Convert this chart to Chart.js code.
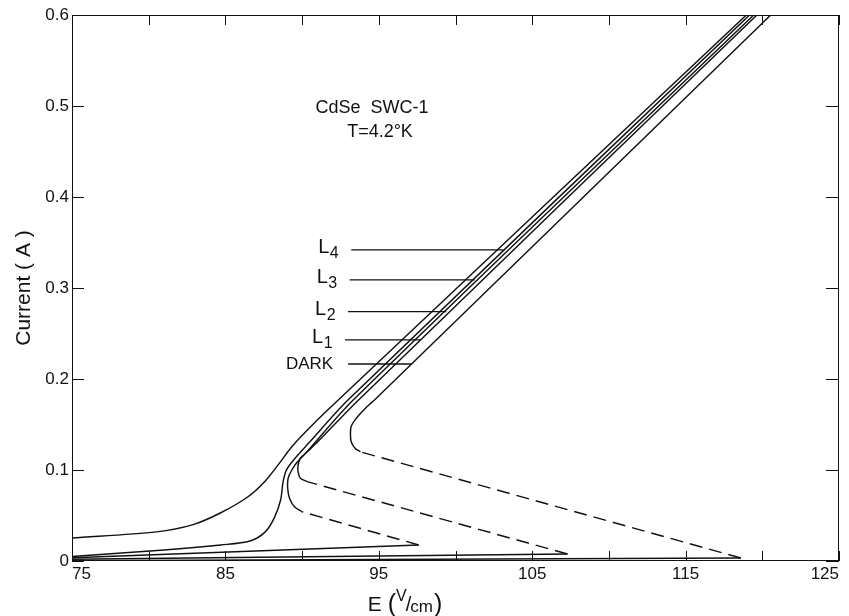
<!DOCTYPE html>
<html>
<head>
<meta charset="utf-8">
<script src="https://cdn.jsdelivr.net/npm/chart.js@4.4.1/dist/chart.umd.min.js"></script>
<style>html,body{margin:0;padding:0;background:#fff}canvas{display:block}</style>
</head>
<body>
<canvas id="c" width="849" height="616"></canvas>
<script>
// ---------- axis ticks ----------
const xTickValues = [75, 80, 85, 90, 95, 100, 105, 110, 115, 120, 125];
const xTickLabels = ['75', '85', '95', '105', '115', '125'];
const yTickValues = [0, 0.1, 0.2, 0.3, 0.4, 0.5, 0.6];
const yTickLabels = ['0', '0.1', '0.2', '0.3', '0.4', '0.5', '0.6'];

// ---------- DARK curve (E in V/cm, I in A) ----------
const darkLowE  = [75, 118.6];
const darkLowI  = [0.0003, 0.0033];
const darkDashE = [118.6, 93.8];
const darkDashI = [0.0033, 0.120];
const darkUpE   = [93.8, 93.45, 93.2, 93.15, 93.2, 93.45, 93.8, 94.26, 94.72, 120.55];
const darkUpI   = [0.120, 0.124, 0.131, 0.140, 0.148, 0.155, 0.162, 0.170, 0.177, 0.6];

// ---------- L1 ----------
const l1LowE  = [75, 107.3];
const l1LowI  = [0.0019, 0.0077];
const l1DashE = [107.3, 90.33];
const l1DashI = [0.0077, 0.0872];
const l1UpE   = [90.33, 89.89, 89.74, 89.74, 89.89, 90.33, 90.9, 93.68, 119.65];
const l1UpI   = [0.0872, 0.091, 0.098, 0.1055, 0.113, 0.120, 0.129, 0.177, 0.6];

// ---------- L2 ----------
const l2LowE  = [75, 97.6];
const l2LowI  = [0.0035, 0.0176];
const l2DashE = [97.6, 89.98];
const l2DashI = [0.0176, 0.0542];
const l2UpE   = [89.98, 89.5, 89.18, 89.06, 89.09, 89.33, 89.7, 90.21, 93.33, 119.44];
const l2UpI   = [0.0542, 0.0597, 0.069, 0.080, 0.0909, 0.100, 0.109, 0.118, 0.177, 0.6];

// ---------- L3 ----------
const l3E = [75, 81, 84.7, 86.6, 87.6, 88.2, 88.6, 88.75, 88.95, 89.3, 89.8, 90.4, 92.99, 119.17];
const l3I = [0.005, 0.012, 0.0176, 0.022, 0.032, 0.048, 0.067, 0.086, 0.099, 0.108, 0.118, 0.129, 0.177, 0.6];

// ---------- L4 ----------
const l4E = [75, 80.5, 82.9, 84.7, 86.45, 87.6, 88.5, 89.3, 90.35, 91.46, 118.96];
const l4I = [0.0253, 0.032, 0.040, 0.053, 0.0703, 0.088, 0.107, 0.125, 0.144, 0.1626, 0.6];

// ---------- curve labels and leader lines ----------
const labelMain   = ['L', 'L', 'L', 'L', 'DARK'];
const labelSub    = ['4', '3', '2', '1', ''];
const leaderI     = [0.342, 0.309, 0.274, 0.243, 0.2165];
const leaderFromE = [93.2, 93.1, 93.0, 92.8, 93.0];
const leaderToE   = [103.1, 101.25, 99.4, 97.7, 97.15];

const titleLines = ['CdSe  SWC-1', 'T=4.2°K'];

const FONT = "'Liberation Sans', Arial, sans-serif";
const INK = '#111111';

const pts = (E, I) => E.map((e, i) => ({x: e, y: I[i]}));
const solid = (E, I, t) => ({data: pts(E, I), showLine: true, borderColor: INK, borderWidth: 1.45,
  pointRadius: 0, tension: t, fill: false});
const dashed = (E, I) => ({data: pts(E, I), showLine: true, borderColor: INK, borderWidth: 1.45,
  pointRadius: 0, tension: 0, borderDash: [13, 7], fill: false});

const datasets = [
  solid(darkLowE, darkLowI, 0), dashed(darkDashE, darkDashI), solid(darkUpE, darkUpI, 0.3),
  solid(l1LowE, l1LowI, 0), dashed(l1DashE, l1DashI), solid(l1UpE, l1UpI, 0.3),
  solid(l2LowE, l2LowI, 0), dashed(l2DashE, l2DashI), solid(l2UpE, l2UpI, 0.3),
  solid(l3E, l3I, 0.3),
  solid(l4E, l4I, 0.3)
];
leaderI.forEach((v, i) => {
  datasets.push({data: [{x: leaderFromE[i], y: v}, {x: leaderToE[i], y: v}], showLine: true,
    borderColor: INK, borderWidth: 1.3, pointRadius: 0, tension: 0, fill: false});
});

const decor = {
  id: 'decor',
  afterDraw(chart) {
    const {ctx, chartArea: a, scales: {x, y}} = chart;
    ctx.save();
    ctx.strokeStyle = INK;
    ctx.lineWidth = 1;
    ctx.strokeRect(a.left + 0.5, a.top + 0.5, a.right - a.left - 1, a.bottom - a.top - 1);
    ctx.beginPath();
    xTickValues.forEach(v => {
      const px = Math.round(x.getPixelForValue(v)) + 0.5;
      ctx.moveTo(px, a.bottom); ctx.lineTo(px, a.bottom - 10);
      ctx.moveTo(px, a.top); ctx.lineTo(px, a.top + 10);
    });
    yTickValues.forEach(v => {
      const py = Math.round(y.getPixelForValue(v)) + 0.5;
      ctx.moveTo(a.left, py); ctx.lineTo(a.left + 12, py);
      ctx.moveTo(a.right, py); ctx.lineTo(a.right - 13, py);
    });
    ctx.stroke();

    ctx.fillStyle = INK;
    // sample annotation
    ctx.textBaseline = 'middle';
    ctx.textAlign = 'center';
    ctx.font = '18px ' + FONT;
    ctx.fillText(titleLines[0], 372, 108);
    ctx.fillText(titleLines[1], 380, 132);

    // curve labels
    ctx.textAlign = 'left';
    leaderI.forEach((v, i) => {
      const lx = x.getPixelForValue(leaderFromE[i]);
      const ly = y.getPixelForValue(v);
      if (labelSub[i]) {
        ctx.font = '16px ' + FONT;
        const ws = ctx.measureText(labelSub[i]).width;
        ctx.font = '20px ' + FONT;
        const wm = ctx.measureText(labelMain[i]).width;
        const x0 = lx - 13 - ws - wm;
        ctx.fillText(labelMain[i], x0, ly - 2);
        ctx.font = '16px ' + FONT;
        ctx.fillText(labelSub[i], x0 + wm + 0.5, ly + 4);
      } else {
        ctx.font = '17px ' + FONT;
        const wm = ctx.measureText(labelMain[i]).width;
        ctx.fillText(labelMain[i], lx - 15 - wm, ly);
      }
    });

    // x axis title: E (V/cm)
    ctx.textBaseline = 'alphabetic';
    const parts = [
      ['E', 21, 611, 6], ['(', 25, 612, 0], ['V', 16, 601, -1], ['/', 20, 611, -1],
      ['cm', 17, 612, 1], [')', 25, 612, 0]
    ];
    let total = 0;
    parts.forEach(p => { ctx.font = p[1] + 'px ' + FONT; total += ctx.measureText(p[0]).width + p[3]; });
    let cx = 405 - total / 2;
    parts.forEach(p => {
      ctx.font = p[1] + 'px ' + FONT;
      ctx.fillText(p[0], cx, p[2]);
      cx += ctx.measureText(p[0]).width + p[3];
    });
    ctx.restore();
  }
};

new Chart(document.getElementById('c'), {
  type: 'scatter',
  data: {datasets},
  options: {
    responsive: false,
    animation: false,
    devicePixelRatio: 1,
    layout: {padding: {top: 15, right: 10, left: 0, bottom: 0}},
    plugins: {legend: {display: false}, tooltip: {enabled: false}},
    scales: {
      x: {
        type: 'linear', min: 75, max: 125, position: 'bottom',
        grid: {display: false, drawTicks: false}, border: {display: false},
        afterBuildTicks: s => { s.ticks = xTickValues.map(v => ({value: v})); },
        ticks: {
          autoSkip: false, maxRotation: 0, padding: 3, color: INK, align: 'inner',
          font: {family: FONT, size: 17},
          callback: v => (xTickLabels.includes(String(v)) ? String(v) : '')
        },
        afterFit: s => { s.height = 55; s.paddingLeft = 0; s.paddingRight = 0; }
      },
      y: {
        type: 'linear', min: 0, max: 0.6,
        grid: {display: false, drawTicks: false}, border: {display: false},
        afterBuildTicks: s => { s.ticks = yTickValues.map(v => ({value: v})); },
        ticks: {
          padding: 3, color: INK, font: {family: FONT, size: 17},
          callback: (v, i) => yTickLabels[yTickValues.indexOf(Math.round(v * 10) / 10)]
        },
        title: {display: true, text: 'Current ( A )', color: INK,
          font: {family: FONT, size: 21}, padding: {top: 12, bottom: 0}},
        afterFit: s => { s.width = 72; s.paddingTop = 0; s.paddingBottom = 0; }
      }
    }
  },
  plugins: [decor]
});
</script>
</body>
</html>
